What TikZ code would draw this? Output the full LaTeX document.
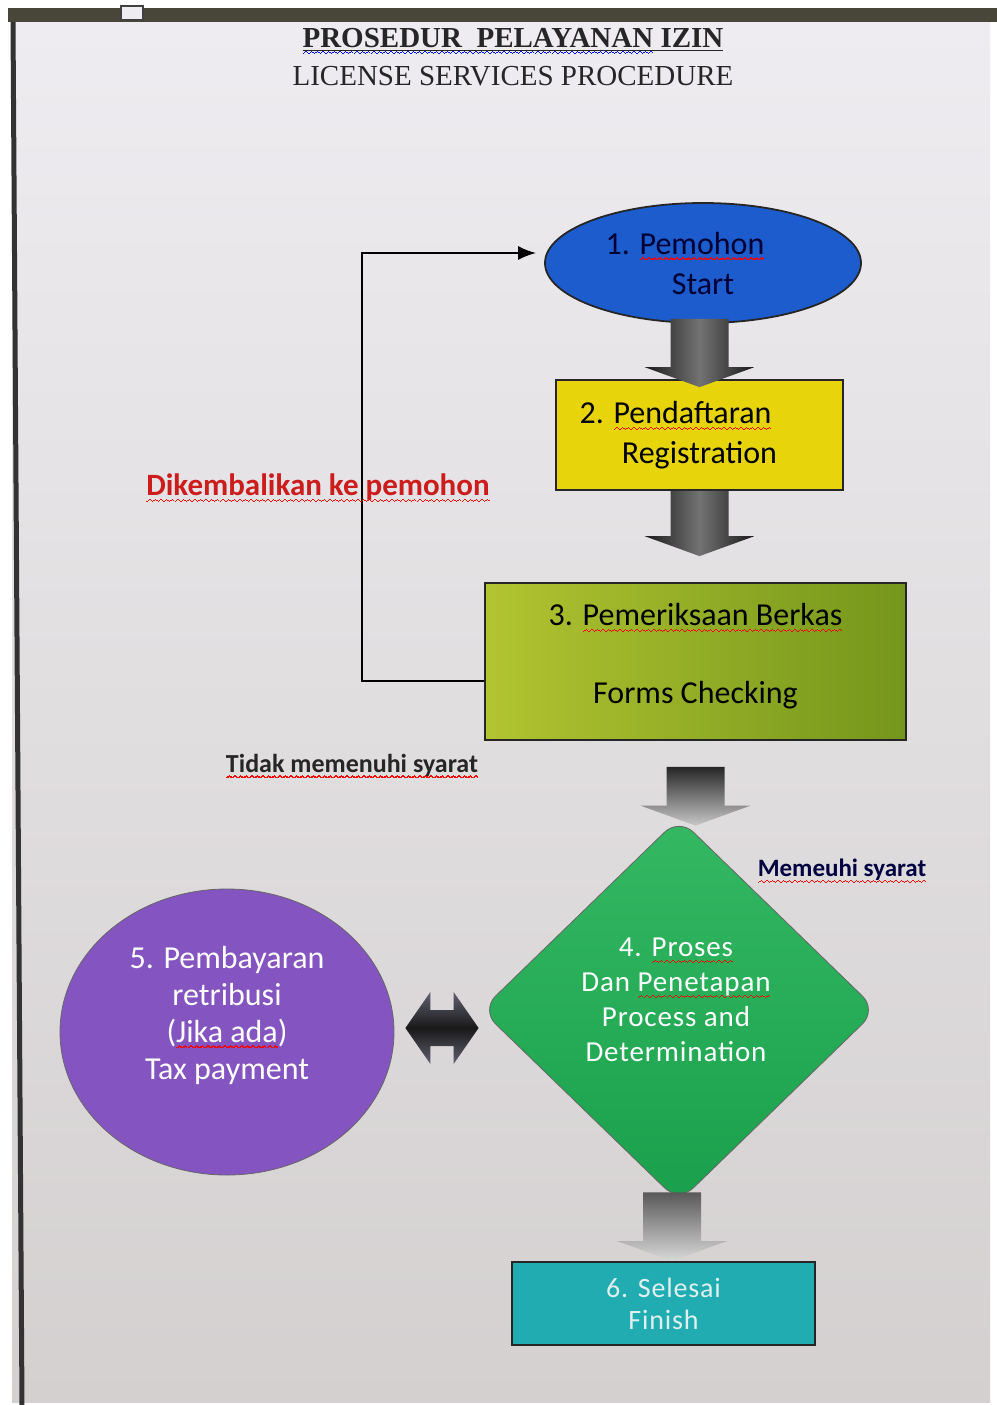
\documentclass[tikz,border=0pt]{standalone}
\usepackage{fontspec}
\setmainfont{Carlito}
\newfontfamily\titlefont{Liberation Serif}
\usepackage{xcolor}
\usetikzlibrary{calc,positioning,shapes.geometric,arrows.meta}

\definecolor{pageA}{RGB}{238,236,240}
\definecolor{pageB}{RGB}{212,208,208}
\definecolor{bandgray}{RGB}{72,70,56}
\definecolor{startblue}{RGB}{28,92,204}
\definecolor{regyellow}{RGB}{232,212,10}
\definecolor{checkA}{RGB}{178,196,48}
\definecolor{checkB}{RGB}{116,150,28}
\definecolor{procA}{RGB}{52,184,98}
\definecolor{procB}{RGB}{26,160,76}
\definecolor{paypurple}{RGB}{132,84,192}
\definecolor{finishteal}{RGB}{32,172,176}
\definecolor{dblA}{RGB}{96,96,112}
\definecolor{backred}{RGB}{205,28,28}

% wavy spell-check underlines, built from small rules
\newsavebox\spellbox
\newcommand\wavetile{\hbox{\rule{0.7pt}{0.6pt}\raisebox{0.45pt}{\rule{0.7pt}{0.6pt}}%
  \raisebox{0.9pt}{\rule{0.7pt}{0.6pt}}\raisebox{0.45pt}{\rule{0.7pt}{0.6pt}}}}
\newcommand\wavy[2]{\sbox\spellbox{#2}\leavevmode\rlap{\raisebox{-3.2pt}[0pt][0pt]{\hbox to \wd\spellbox{%
  \color{#1}\xleaders\wavetile\hfill}}}\usebox\spellbox}
\newcommand\spell{\wavy{red}}
\newcommand\gram{\wavy{blue}}

% block arrow: #1 top of shaft, #2 tip, #3 shading
\newcommand\blockarrow[3]{%
  \shade[#3] ($(#1)+(-29,0)$) -- ($(#2)+(-29,-20)$) -- ($(#2)+(-55,-20)$) -- (#2)
    -- ($(#2)+(55,-20)$) -- ($(#2)+(29,-20)$) -- ($(#1)+(29,0)$) -- cycle;}

\begin{document}
\begin{tikzpicture}[x=0.5pt, y=-0.5pt,
    shapeline/.style={draw=black!85, line width=0.9pt},
    startnode/.style={shapeline, ellipse, fill=startblue, minimum width=158pt, minimum height=60pt,
      inner sep=0pt, align=center, text=black!80!blue, font=\fontsize{16}{20}\selectfont},
    regbox/.style={shapeline, rectangle, fill=regyellow, minimum width=143.5pt, minimum height=55pt,
      align=center, font=\fontsize{16}{20}\selectfont},
    checkbox/.style={shapeline, rectangle, left color=checkA, right color=checkB, minimum width=210.5pt,
      minimum height=78.5pt, align=center, font=\fontsize{16}{19}\selectfont},
    procnode/.style={draw=black!60, diamond, top color=procA, bottom color=procB, minimum width=198pt,
      minimum height=192pt, inner sep=0pt, rounded corners=10pt},
    paynode/.style={draw=black!60, ellipse, fill=paypurple, minimum width=167pt, minimum height=143pt},
    innertext/.style={align=center, text=white, font=\fontsize{16}{18.5}\selectfont},
    finishbox/.style={shapeline, rectangle, fill=finishteal, minimum width=151.5pt, minimum height=41.5pt,
      align=center, text=white!88!teal, font=\fontsize{14}{16}\selectfont\addfontfeature{LetterSpace=3}},
    note/.style={font=\bfseries\fontsize{13}{15}\selectfont},
    returnline/.style={draw=black, line width=1pt, -{Latex[length=9pt,width=7pt]}},
  ]
  \useasboundingbox (0,0) rectangle (997,1405);
  % screen photo background
  \fill[white] (0,0) rectangle (997,1405);
  \fill[bandgray] (8,8) rectangle (997,22);
  \shade[top color=pageA, bottom color=pageB] (12,22) rectangle (990,1402);
  \draw[black!80, line width=2.5pt] (13,22) -- (22,1405);
  \filldraw[fill=pageA, draw=black!75, line width=0.8pt] (121,6) rectangle (143,20);

  \node[font=\titlefont\bfseries\fontsize{14.5}{17}\selectfont, text=black!85] (title) at (513,40)
    {\underline{\gram{PROSEDUR\ \ PELAYANAN} IZIN}};
  \node[below=0pt of title, font=\titlefont\fontsize{14.5}{17}\selectfont, text=black!85] (subtitle)
    {LICENSE SERVICES PROCEDURE};

  \node[startnode] (start) at (703,263) {\hspace*{-18pt}1. \spell{Pemohon}\\ Start};
  \node[regbox] (reg) at (699.5,435) {\hspace*{-24pt}2. \spell{Pendaftaran}\\ Registration};
  \node[checkbox] (check) at (695.5,661.5)
    {3. \spell{Pemeriksaan Berkas}\\[20pt] Forms Checking\\[-11pt]\mbox{}};
  \node[procnode] (proc) at (679,1010) {};
  \node[innertext, font=\fontsize{14.5}{17.5}\selectfont\addfontfeature{LetterSpace=3}] (proctext) at (676,1000)
    {4. \spell{Proses}\\ Dan \spell{Penetapan}\\ Process and\\ Determination};
  \node[paynode] (pay) at (227,1032) {};
  \node[innertext] (paytext) at (227,1015) {5. Pembayaran\\ retribusi\\ (\spell{Jika ada})\\ Tax payment};
  \node[finishbox] (finish) at (663.5,1303.5) {6. Selesai\\ Finish};

  % block arrows
  \coordinate (a1top) at ($(start.south -| reg.north)+(0,-5)$);
  \coordinate (a1tip) at ($(reg.north)+(0,8)$);
  \coordinate (a2top) at (reg.south);
  \coordinate (a2tip) at ($(reg.south |- check.north)+(0,-26)$);
  \coordinate (a3top) at ($(check.south)+(0,26)$);
  \coordinate (a3tip) at ($(check.south |- proc.north)+(0,8)$);
  \coordinate (a5top) at ($(proc.south)+(-7,-10)$);
  \coordinate (a5tip) at ($(proc.south |- finish.north)+(-7,0)$);
  \blockarrow{a1top}{a1tip}{left color=black!90, right color=black!90, middle color=black!55}
  \blockarrow{a2top}{a2tip}{left color=black!90, right color=black!90, middle color=black!55}
  \blockarrow{a3top}{a3tip}{top color=black!85, bottom color=black!22}
  \blockarrow{a5top}{a5tip}{top color=black!65, bottom color=black!15}

  % two-way arrow between payment and process
  \coordinate (dl) at ($(pay.east)+(11,-4)$);
  \coordinate (dr) at ($(pay.east -| proc.west)+(-2,-4)$);
  \shade[top color=dblA, bottom color=dblA, middle color=black!90]
    (dl) -- ($(dl)+(25,-36)$) -- ($(dl)+(25,-18)$) -- ($(dr)+(-25,-18)$) -- ($(dr)+(-25,-36)$) -- (dr)
    -- ($(dr)+(-25,36)$) -- ($(dr)+(-25,18)$) -- ($(dl)+(25,18)$) -- ($(dl)+(25,36)$) -- cycle;

  % back to applicant
  \coordinate (retA) at ([yshift=-9.5pt]check.west);
  \coordinate (retB) at ([xshift=-4pt,yshift=5pt]start.west);
  \coordinate (bend) at (362,0);
  \draw[returnline] (retA) -- (retA -| bend) -- (bend |- retB) -- (retB);

  \node[note, text=backred, font=\bfseries\fontsize{15.5}{18}\selectfont] (backlabel) at (318,487)
    {\spell{Dikembalikan ke pemohon}};
  \node[note, text=black!85] (notlabel) at (352,765) {\spell{Tidak memenuhi syarat}};
  \node[note, text=black!75!blue, font=\bfseries\fontsize{12.5}{15}\selectfont] (oklabel) at (842,870)
    {\spell{Memeuhi syarat}};
\end{tikzpicture}
\end{document}
